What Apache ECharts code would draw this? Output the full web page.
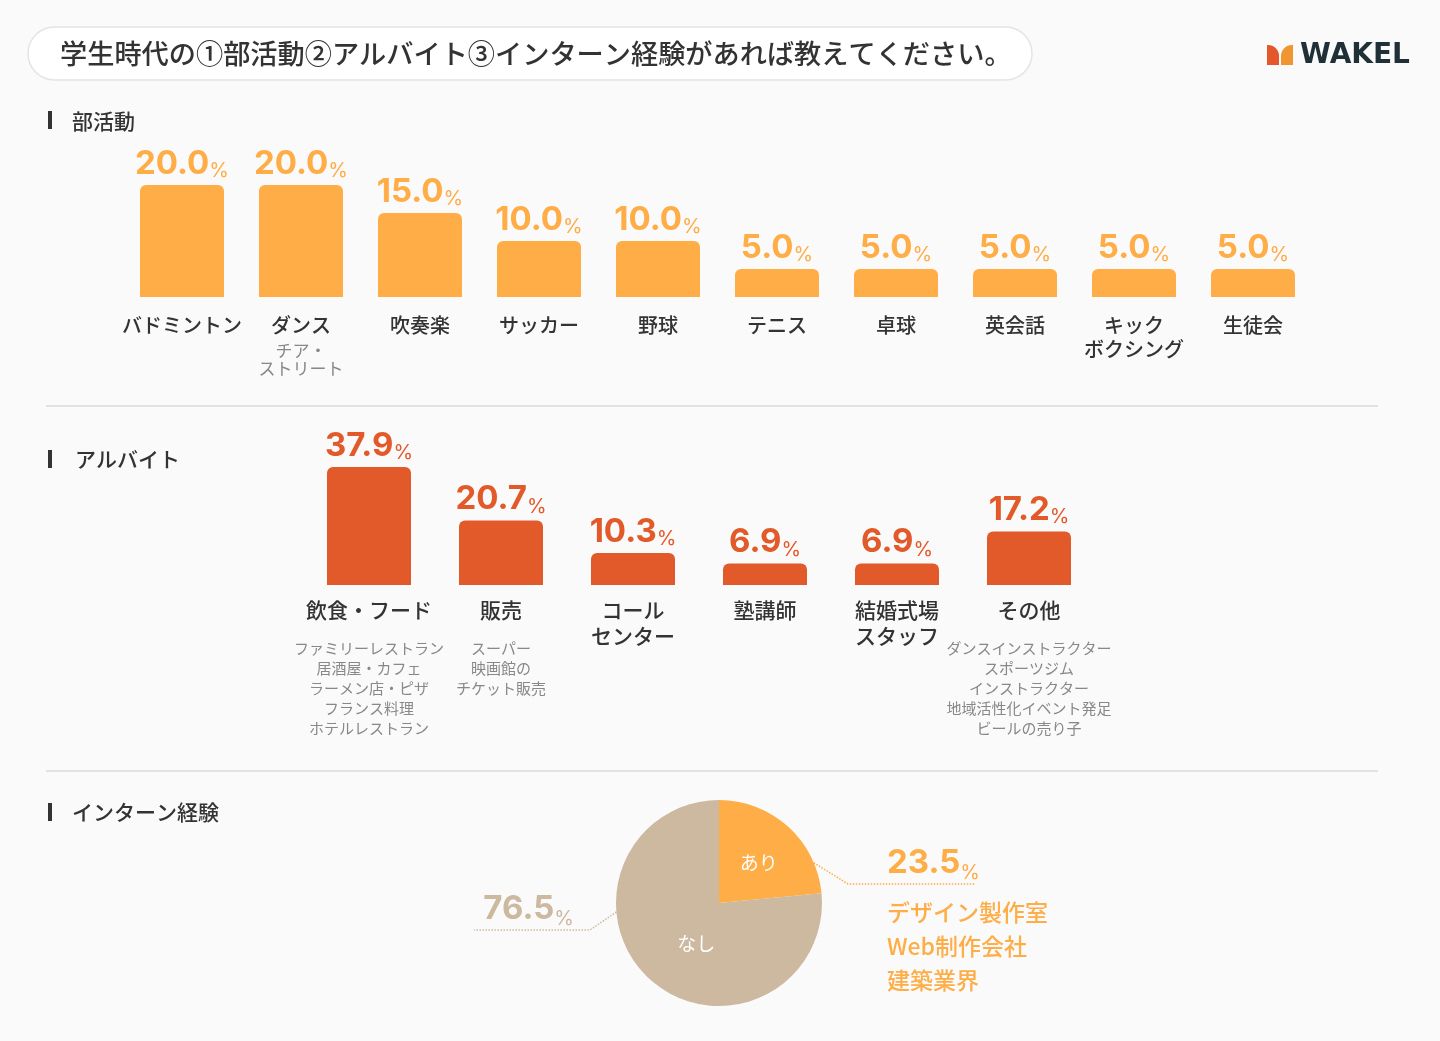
<!DOCTYPE html>
<html>
<head>
<meta charset="utf-8">
<script src="https://cdn.jsdelivr.net/npm/echarts@6.0.0/dist/echarts.min.js"></script>
<style>
  html, body { margin: 0; padding: 0; background: #FAFAFA; }
  #main { width: 1440px; height: 1041px; }
</style>
</head>
<body>
<div id="main"></div>
<script>
// 部活動
var clubNames = ['バドミントン', 'ダンス', '吹奏楽', 'サッカー', '野球', 'テニス', '卓球', '英会話', 'キック\nボクシング', '生徒会'];
var clubNotes = ['', 'チア・\nストリート', '', '', '', '', '', '', '', ''];
var clubValues = [20.0, 20.0, 15.0, 10.0, 10.0, 5.0, 5.0, 5.0, 5.0, 5.0];

// アルバイト
var jobNames = ['飲食・フード', '販売', 'コール\nセンター', '塾講師', '結婚式場\nスタッフ', 'その他'];
var jobNotes = [
    'ファミリーレストラン\n居酒屋・カフェ\nラーメン店・ピザ\nフランス料理\nホテルレストラン',
    'スーパー\n映画館の\nチケット販売',
    '', '', '',
    'ダンスインストラクター\nスポーツジム\nインストラクター\n地域活性化イベント発足\nビールの売り子'
];
var jobValues = [37.9, 20.7, 10.3, 6.9, 6.9, 17.2];

// インターン経験
var internNames = ['あり', 'なし'];
var internValues = [23.5, 76.5];
var internNotes = ['デザイン製作室\nWeb制作会社\n建築業界', ''];

var jpFont = '"Noto Sans CJK JP", "Noto Sans", sans-serif';
var numFont = 'Inter, Roboto, "Noto Sans", sans-serif';
var orange = '#FEAD47';
var red = '#E35A2A';
var beige = '#CDB8A0';

var pieCenter = [719, 903];
var pieRadius = 103;

function rimPoint(deg) {
    var a = deg * Math.PI / 180;
    return [pieCenter[0] + pieRadius * Math.sin(a), pieCenter[1] - pieRadius * Math.cos(a)];
}

/*横軸ラベル：名前＋補足*/
function catLabel(names, notes) {
    return function (v, i) {
        var s = v.split('\n').map(function (l) { return '{n|' + l + '}'; }).join('\n');
        if (notes[i]) {
            s += '\n{g| }\n' + notes[i].split('\n').map(function (l) { return '{s|' + l + '}'; }).join('\n');
        }
        return s;
    };
}

function valueLabel(color) {
    return {
        show: true,
        position: 'top',
        distance: 4,
        formatter: function (p) { return '{v|' + p.value.toFixed(1) + '}{p|%}'; },
        rich: {
            v: { fontFamily: numFont, fontSize: 33, fontWeight: 'bold', color: color, lineHeight: 34 },
            p: { fontFamily: numFont, fontSize: 20, color: color, lineHeight: 27, verticalAlign: 'bottom' }
        }
    };
}

var myChart = echarts.init(document.getElementById('main'));

var option = {
    backgroundColor: '#FAFAFA',
    animation: false,
    textStyle: { fontFamily: jpFont },
    grid: [
        { left: 122.5, top: 185, width: 1190, height: 112 },
        { left: 303, top: 467, width: 792, height: 118 }
    ],
    xAxis: [
        {
            gridIndex: 0,
            type: 'category',
            data: clubNames,
            axisLine: { show: false },
            axisTick: { show: false },
            axisLabel: {
                interval: 0,
                margin: 16,
                formatter: catLabel(clubNames, clubNotes),
                rich: {
                    n: { fontSize: 20, fontWeight: 500, color: '#333', lineHeight: 24, align: 'center', fontFamily: jpFont },
                    g: { fontSize: 1, lineHeight: 5, align: 'center' },
                    s: { fontSize: 17, color: '#888', lineHeight: 18, align: 'center', fontFamily: jpFont }
                }
            }
        },
        {
            gridIndex: 1,
            type: 'category',
            data: jobNames,
            axisLine: { show: false },
            axisTick: { show: false },
            axisLabel: {
                interval: 0,
                margin: 12,
                formatter: catLabel(jobNames, jobNotes),
                rich: {
                    n: { fontSize: 21, fontWeight: 500, color: '#333', lineHeight: 26, align: 'center', fontFamily: jpFont },
                    g: { fontSize: 1, lineHeight: 15, align: 'center' },
                    s: { fontSize: 15, color: '#888', lineHeight: 20, align: 'center', fontFamily: jpFont }
                }
            }
        }
    ],
    yAxis: [
        { gridIndex: 0, type: 'value', min: 0, max: 20, show: false, splitLine: { show: false } },
        { gridIndex: 1, type: 'value', min: 0, max: 37.9, show: false, splitLine: { show: false } }
    ],
    series: [
        {
            type: 'bar',
            xAxisIndex: 0,
            yAxisIndex: 0,
            data: clubValues,
            barWidth: 84,
            itemStyle: { color: orange, borderRadius: [6, 6, 0, 0] },
            label: valueLabel(orange)
        },
        {
            type: 'bar',
            xAxisIndex: 1,
            yAxisIndex: 1,
            data: jobValues,
            barWidth: 84,
            itemStyle: { color: red, borderRadius: [6, 6, 0, 0] },
            label: valueLabel(red)
        },
        {
            type: 'pie',
            center: pieCenter,
            radius: pieRadius,
            startAngle: 90,
            avoidLabelOverlap: false,
            silent: true,
            data: internNames.map(function (n, i) {
                return {
                    name: n,
                    value: internValues[i],
                    itemStyle: { color: i === 0 ? orange : beige },
                    label: { padding: i === 0 ? [0, 0, 0, 6] : [0, 0, 0, 28] }
                };
            }),
            label: { show: true, position: 'inside', color: '#fff', fontSize: 19, fontFamily: jpFont, formatter: '{b}' },
            labelLine: { show: false }
        },
        {
            type: 'pie',
            center: pieCenter,
            radius: pieRadius,
            startAngle: 90,
            avoidLabelOverlap: false,
            silent: true,
            z: 1,
            data: internNames.map(function (n, i) {
                var c = i === 0 ? orange : beige;
                return {
                    name: n,
                    value: internValues[i],
                    itemStyle: { color: 'rgba(0,0,0,0)' },
                    label: { color: c },
                    labelLine: { lineStyle: { color: c } }
                };
            }),
            label: {
                show: true,
                position: 'outside',
                formatter: function (p) {
                    var i = p.dataIndex;
                    var s = '{v|' + internValues[i].toFixed(1) + '}{p|%}';
                    if (internNotes[i]) {
                        s += '\n{g| }\n' + internNotes[i].split('\n').map(function (l) { return '{s|' + l + '}'; }).join('\n');
                    }
                    return s;
                },
                rich: {
                    v: { fontFamily: numFont, fontSize: 33, fontWeight: 'bold', lineHeight: 40 },
                    p: { fontFamily: numFont, fontSize: 20, lineHeight: 31, verticalAlign: 'bottom' },
                    g: { fontSize: 1, lineHeight: 12 },
                    s: { fontFamily: jpFont, fontSize: 23, fontWeight: 500, lineHeight: 34 }
                }
            },
            labelLine: { show: true, lineStyle: { type: 'dotted', width: 1.5 } },
            labelLayout: function (p) {
                if (p.dataIndex === 0) {
                    return {
                        x: 887, y: 843, align: 'left', verticalAlign: 'top',
                        labelLinePoints: [rimPoint(67), [848, 884], [975, 884]]
                    };
                }
                return {
                    x: 574, y: 909, align: 'right', verticalAlign: 'middle',
                    labelLinePoints: [rimPoint(265), [590, 930], [474, 930]]
                };
            }
        }
    ],
    graphic: [
        // タイトル
        {
            type: 'rect',
            shape: { x: 28, y: 27, width: 1004, height: 53, r: 26.5 },
            style: { fill: '#fff', stroke: '#e4e4e4', lineWidth: 1.5 }
        },
        {
            type: 'text', x: 60, y: 54,
            style: {
                text: '学生時代の①部活動②アルバイト③インターン経験があれば教えてください。',
                fill: '#333', fontSize: 27.2, fontWeight: 500, fontFamily: jpFont,
                align: 'left', verticalAlign: 'middle', textAlign: 'left', textVerticalAlign: 'middle'
            }
        },
        // ロゴ
        { type: 'rect', shape: { x: 1267, y: 45, width: 12, height: 20, r: [0, 11, 0, 0] }, style: { fill: '#E4572A' } },
        { type: 'rect', shape: { x: 1281, y: 45, width: 12, height: 20, r: [11, 0, 0, 0] }, style: { fill: '#F0952F' } },
        {
            type: 'text', x: 1300, y: 56,
            style: {
                text: 'WAKEL', fill: '#1F3136', fontSize: 28, fontWeight: 'bold', fontFamily: '"DejaVu Sans", sans-serif',
                align: 'left', verticalAlign: 'middle', textAlign: 'left', textVerticalAlign: 'middle'
            }
        },
        // 見出し
        { type: 'rect', shape: { x: 48, y: 111, width: 4, height: 18 }, style: { fill: '#333' } },
        {
            type: 'text', x: 72, y: 121,
            style: { text: '部活動', fill: '#333', fontSize: 21, fontWeight: 500, fontFamily: jpFont, align: 'left', verticalAlign: 'middle', textAlign: 'left', textVerticalAlign: 'middle' }
        },
        { type: 'line', shape: { x1: 46, y1: 406, x2: 1378, y2: 406 }, style: { stroke: '#e2e2e2', lineWidth: 2 } },
        { type: 'rect', shape: { x: 48, y: 450, width: 4, height: 18 }, style: { fill: '#333' } },
        {
            type: 'text', x: 75, y: 459,
            style: { text: 'アルバイト', fill: '#333', fontSize: 21, fontWeight: 500, fontFamily: jpFont, align: 'left', verticalAlign: 'middle', textAlign: 'left', textVerticalAlign: 'middle' }
        },
        { type: 'line', shape: { x1: 46, y1: 771, x2: 1378, y2: 771 }, style: { stroke: '#e2e2e2', lineWidth: 2 } },
        { type: 'rect', shape: { x: 48, y: 803, width: 4, height: 18 }, style: { fill: '#333' } },
        {
            type: 'text', x: 72, y: 812,
            style: { text: 'インターン経験', fill: '#333', fontSize: 21, fontWeight: 500, fontFamily: jpFont, align: 'left', verticalAlign: 'middle', textAlign: 'left', textVerticalAlign: 'middle' }
        }
    ]
};

myChart.setOption(option);
</script>
</body>
</html>
